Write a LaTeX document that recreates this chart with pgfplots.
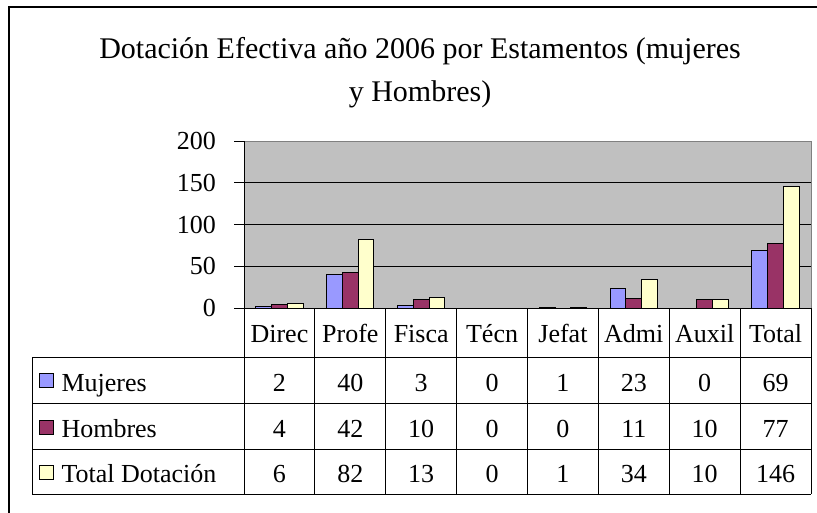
\documentclass[border=0pt]{standalone}
\usepackage{pgfplots}
\pgfplotsset{compat=1.18}
\usepackage{fontspec}
\setmainfont{Liberation Serif}
\definecolor{muj}{HTML}{9999FF}
\definecolor{hom}{HTML}{993366}
\definecolor{tot}{HTML}{FFFFCC}
\definecolor{plotgray}{HTML}{C0C0C0}
\definecolor{bordergray}{HTML}{808080}
\newcommand{\tfont}{\fontsize{19.5}{23}\selectfont}
\newcommand{\kfont}{\fontsize{19.5}{23}\selectfont}
\newcommand{\hfont}{\fontsize{22.5}{27}\selectfont}

\begin{document}
\begin{tikzpicture}
\useasboundingbox (0pt,0pt) rectangle (612.75pt,-384pt);
\begin{axis}[
  at={(183pt,-231pt)}, anchor=south west,
  scale only axis, width=425.25pt, height=125.25pt,
  ymin=0, ymax=200, xmin=-0.5, xmax=7.5,
  xtick=\empty, ytick={0,50,...,200},
  ymajorgrids, grid style={black, line width=0.75pt},
  axis background/.style={fill=plotgray},
  axis line style={draw=none},
  ytick pos=left, tick align=outside, major tick length=7.5pt,
  tick style={black, line width=0.75pt},
  yticklabel style={font=\kfont, xshift=-10pt},
  /pgf/number format/assume math mode=true,
  ybar=0pt, bar width=11.81pt,
  every axis plot/.append style={draw=black, line width=0.75pt},
  clip=false]
\addplot[fill=muj] coordinates {(0,2) (1,40) (2,3) (3,0) (4,1) (5,23) (6,0) (7,69)};
\addplot[fill=hom] coordinates {(0,4) (1,42) (2,10) (3,0) (4,0) (5,11) (6,10) (7,77)};
\addplot[fill=tot] coordinates {(0,6) (1,82) (2,13) (3,0) (4,1) (5,34) (6,10) (7,146)};
\draw[bordergray, line width=0.75pt] (rel axis cs:0,1) -- (rel axis cs:1,1) -- (rel axis cs:1,0);
\draw[black, line width=0.75pt] (rel axis cs:0,0) -- (rel axis cs:0,1);
\end{axis}
\begin{scope}[x=0.75pt,y=-0.75pt, line width=0.75pt]
  % outer frame
  \draw[line width=1.1pt] (9,530) -- (9,7) -- (840,7);
  % title
  \node[font=\hfont, anchor=base, inner sep=0pt] at (420,58) {Dotación Efectiva año 2006 por Estamentos (mujeres};
  \node[font=\hfont, anchor=base, inner sep=0pt] at (420,101) {y Hombres)};
  % table lines
  \draw (244,308) -- (811,308);
  \foreach \k in {0,...,8} \draw ({244+70.875*\k},308) -- ({244+70.875*\k},494);
  \foreach \yy in {357,403.5,449.5,494} \draw (32,\yy) -- (811,\yy);
  \draw (32,357) -- (32,494);
  % header
  \foreach [count=\i from 0] \c in {Direc,Profe,Fisca,Técn,Jefat,Admi,Auxil,Total}
    \node[font=\tfont, anchor=base, inner sep=0pt] at ({279.44+70.875*\i},342) {\c};
  % legend keys
  \draw[fill=muj] (39,373.5) rectangle (53,387.5);
  \draw[fill=hom] (39,420) rectangle (53,434);
  \draw[fill=tot] (39,465) rectangle (53,479);
  \node[font=\tfont, anchor=base west, inner sep=0pt] at (61,391) {Mujeres};
  \node[font=\tfont, anchor=base west, inner sep=0pt] at (61,437) {Hombres};
  \node[font=\tfont, anchor=base west, inner sep=0pt] at (61,482) {Total Dotación};
  % values
  \foreach [count=\i from 0] \v in {2,40,3,0,1,23,0,69}
    \node[font=\tfont, anchor=base, inner sep=0pt] at ({279.44+70.875*\i},391) {\v};
  \foreach [count=\i from 0] \v in {4,42,10,0,0,11,10,77}
    \node[font=\tfont, anchor=base, inner sep=0pt] at ({279.44+70.875*\i},437) {\v};
  \foreach [count=\i from 0] \v in {6,82,13,0,1,34,10,146}
    \node[font=\tfont, anchor=base, inner sep=0pt] at ({279.44+70.875*\i},482) {\v};
\end{scope}
\end{tikzpicture}
\end{document}
